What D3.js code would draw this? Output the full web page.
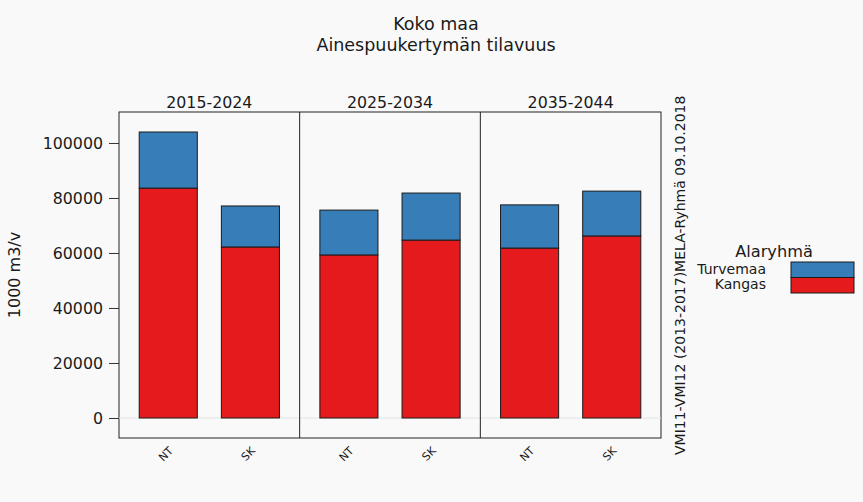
<!DOCTYPE html>
<html lang="en">
<head>
  <meta charset="UTF-8">
  <title>Koko maa - Ainespuukertymän tilavuus</title>
  <script src="https://d3js.org/d3.v7.min.js"></script>
  <style>
    body { margin: 0; background: #f9f9f9; }
    svg text { font-family: "DejaVu Sans", sans-serif; fill: #1a1a1a; }
  </style>
</head>
<body>
  <svg id="chart" width="863" height="502"></svg>
  <script>
    // periods (facets), scenarios and the two stacked sub-groups
    const periods = ["2015-2024", "2025-2034", "2035-2044"];
    const scenarios = ["NT", "SK"];
    const groups = ["Kangas", "Turvemaa"];
    // values per period, in scenario order NT, SK
    const kangas = [[83600, 62200], [59300, 64700], [61800, 66200]];
    const turvemaa = [[20400, 14900], [16300, 17100], [15700, 16300]];
    const yTicks = [0, 20000, 40000, 60000, 80000, 100000];
    const colors = { Kangas: "#E41A1C", Turvemaa: "#377EB8" };

    const svg = d3.select("#chart");
    const plotLeft = 119, plotRight = 661, plotTop = 112, plotBottom = 438;

    const y = d3.scaleLinear().domain([-7273, 111272]).range([plotBottom, plotTop]);
    const fx = d3.scaleBand().domain(periods).range([plotLeft, plotRight]);
    const x = d3.scaleBand().domain(scenarios).range([0, fx.bandwidth()])
      .paddingInner(0.293).paddingOuter(0.246);

    // titles
    svg.append("text").attr("x", 436).attr("y", 30).attr("text-anchor", "middle")
      .attr("font-size", 17.5).text("Koko maa");
    svg.append("text").attr("x", 436).attr("y", 51).attr("text-anchor", "middle")
      .attr("font-size", 17.5).text("Ainespuukertymän tilavuus");

    // plot area
    svg.append("rect").attr("x", plotLeft).attr("y", plotTop)
      .attr("width", plotRight - plotLeft).attr("height", plotBottom - plotTop)
      .attr("fill", "#f9f9f9").attr("stroke", "#222").attr("stroke-width", 1);

    // zero gridline
    svg.append("line").attr("x1", plotLeft).attr("x2", plotRight)
      .attr("y1", y(0)).attr("y2", y(0)).attr("stroke", "#e3e3e3");

    // y axis
    const yAxis = svg.append("g").attr("transform", `translate(${plotLeft},0)`)
      .call(d3.axisLeft(y).tickValues(yTicks).tickSize(10).tickPadding(6).tickFormat(d3.format("d")));
    yAxis.select(".domain").remove();
    yAxis.selectAll(".tick line").attr("stroke", "#333");
    yAxis.selectAll("text").attr("font-size", 15.8).attr("fill", "#1a1a1a")
      .style("font-family", "DejaVu Sans, sans-serif");

    svg.append("text").attr("transform", "translate(20,275) rotate(-90)")
      .attr("text-anchor", "middle").attr("font-size", 16).text("1000 m3/v");

    const stackRows = (pi) => scenarios.map((s, si) => ({
      scenario: s, Kangas: kangas[pi][si], Turvemaa: turvemaa[pi][si]
    }));
    const stack = d3.stack().keys(groups);

    periods.forEach((p, pi) => {
      const g = svg.append("g").attr("transform", `translate(${fx(p)},0)`);

      if (pi > 0) {
        svg.append("line").attr("x1", fx(p)).attr("x2", fx(p))
          .attr("y1", plotTop).attr("y2", plotBottom).attr("stroke", "#222");
      }

      svg.append("text").attr("x", fx(p) + fx.bandwidth() / 2).attr("y", 108)
        .attr("text-anchor", "middle").attr("font-size", 15.8).text(p);

      stack(stackRows(pi)).forEach(layer => {
        g.selectAll(null).data(layer).enter().append("rect")
          .attr("x", d => x(d.data.scenario))
          .attr("width", x.bandwidth())
          .attr("y", d => y(d[1]))
          .attr("height", d => y(d[0]) - y(d[1]))
          .attr("fill", colors[layer.key])
          .attr("stroke", "#1a1a1a").attr("stroke-width", 1);
      });

      // rotated scenario labels
      g.selectAll(null).data(scenarios).enter().append("text")
        .attr("transform", d => `translate(${x(d) + x.bandwidth() / 2},${plotBottom + 8}) rotate(-45)`)
        .attr("text-anchor", "end").attr("dy", "0.7em").attr("font-size", 11).text(d => d);
    });

    // rotated source note
    svg.append("text").attr("transform", "translate(685,455) rotate(-90)")
      .attr("text-anchor", "start").attr("font-size", 14)
      .text("VMI11-VMI12 (2013-2017)MELA-Ryhmä 09.10.2018");

    // legend
    const lg = svg.append("g");
    lg.append("text").attr("x", 774).attr("y", 257).attr("text-anchor", "middle")
      .attr("font-size", 16.2).text("Alaryhmä");
    ["Turvemaa", "Kangas"].forEach((k, i) => {
      lg.append("rect").attr("x", 791).attr("y", 262 + i * 15.5)
        .attr("width", 63).attr("height", 15.5)
        .attr("fill", colors[k]).attr("stroke", "#1a1a1a");
      lg.append("text").attr("x", 766).attr("y", 274 + i * 15)
        .attr("text-anchor", "end").attr("font-size", 14).text(k);
    });
  </script>
</body>
</html>
